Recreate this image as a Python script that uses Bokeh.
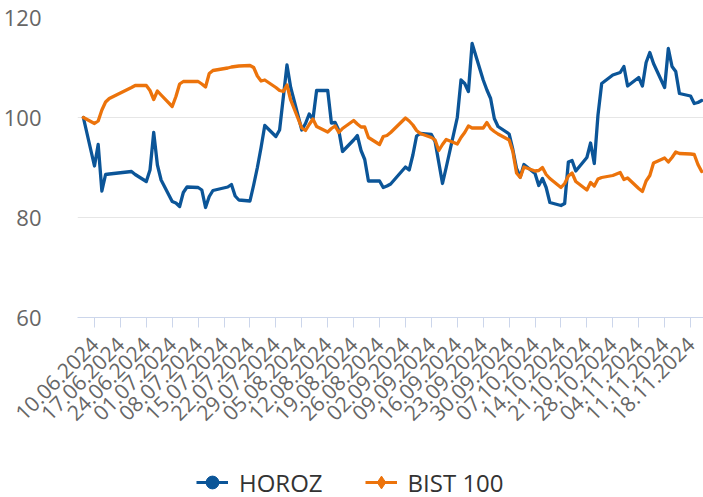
import math
import pandas as pd
from bokeh.plotting import figure
from bokeh.layouts import column
from bokeh.models import (ColumnDataSource, Range1d, FixedTicker, DatetimeTickFormatter,
                          Legend, LegendItem)
from bokeh.embed import file_html
from bokeh.resources import INLINE

dates = [
    "07.06.2024", "10.06.2024", "11.06.2024", "12.06.2024", "13.06.2024", "14.06.2024",
    "20.06.2024", "21.06.2024", "24.06.2024", "25.06.2024", "26.06.2024", "27.06.2024",
    "28.06.2024", "01.07.2024", "02.07.2024", "03.07.2024", "04.07.2024", "05.07.2024",
    "08.07.2024", "09.07.2024", "10.07.2024", "11.07.2024", "12.07.2024", "16.07.2024",
    "17.07.2024", "18.07.2024", "19.07.2024", "22.07.2024", "23.07.2024", "24.07.2024",
    "25.07.2024", "26.07.2024", "29.07.2024", "30.07.2024", "31.07.2024", "01.08.2024",
    "02.08.2024", "05.08.2024", "06.08.2024", "07.08.2024", "08.08.2024", "09.08.2024",
    "12.08.2024", "13.08.2024", "14.08.2024", "15.08.2024", "16.08.2024", "19.08.2024",
    "20.08.2024", "21.08.2024", "22.08.2024", "23.08.2024", "26.08.2024", "27.08.2024",
    "28.08.2024", "29.08.2024", "02.09.2024", "03.09.2024", "04.09.2024", "05.09.2024",
    "06.09.2024", "09.09.2024", "10.09.2024", "11.09.2024", "12.09.2024", "13.09.2024",
    "16.09.2024", "17.09.2024", "18.09.2024", "19.09.2024", "20.09.2024", "23.09.2024",
    "24.09.2024", "25.09.2024", "26.09.2024", "27.09.2024", "30.09.2024", "01.10.2024",
    "02.10.2024", "03.10.2024", "04.10.2024", "07.10.2024", "08.10.2024", "09.10.2024",
    "10.10.2024", "11.10.2024", "14.10.2024", "15.10.2024", "16.10.2024", "17.10.2024",
    "18.10.2024", "21.10.2024", "22.10.2024", "23.10.2024", "24.10.2024", "25.10.2024",
    "28.10.2024", "30.10.2024", "31.10.2024", "01.11.2024", "04.11.2024", "05.11.2024",
    "06.11.2024", "07.11.2024", "08.11.2024", "11.11.2024", "12.11.2024", "13.11.2024",
    "14.11.2024", "15.11.2024", "18.11.2024", "19.11.2024", "20.11.2024", "21.11.2024",
]

horoz = [
    100.0, 90.3, 94.6, 85.3, 88.6, 88.7,
    89.2, 88.6, 87.2, 89.5, 97.0, 90.5,
    87.5, 83.2, 82.9, 82.2, 85.0, 86.1,
    86.0, 85.5, 82.0, 84.2, 85.4, 86.1,
    86.6, 84.3, 83.5, 83.3, 86.5, 90.0,
    94.0, 98.4, 96.2, 97.5, 104.0, 110.5,
    106.0, 97.5, 98.8, 100.7, 99.6, 105.4,
    105.4, 98.9, 99.0, 97.4, 93.2, 95.5,
    96.4, 93.4, 91.6, 87.3, 87.3, 86.0,
    86.3, 86.7, 90.1, 89.5, 92.5, 96.3,
    96.8, 96.6, 95.2, 91.0, 86.8, 90.0,
    100.0, 107.5, 106.8, 105.2, 114.8, 107.5,
    105.5, 103.8, 99.8, 98.2, 96.7, 93.6,
    89.8, 88.1, 90.6, 88.8, 86.4, 87.8,
    86.0, 83.0, 82.4, 82.8, 91.1, 91.4,
    89.3, 92.0, 94.9, 90.8, 100.5, 106.8,
    108.5, 109.0, 110.2, 106.3, 108.0, 106.3,
    111.0, 113.0, 110.8, 106.0, 113.8, 110.2,
    109.2, 104.8, 104.3, 102.8, 103.0, 103.4,
]

bist100 = [
    100.0, 98.8, 99.3, 101.5, 103.1, 103.8,
    106.0, 106.4, 106.4, 105.4, 103.6, 105.3,
    104.5, 102.2, 104.2, 106.7, 107.2, 107.2,
    107.2, 106.7, 106.1, 108.8, 109.4, 109.9,
    110.1, 110.2, 110.3, 110.4, 110.0, 108.3,
    107.3, 107.5, 106.0, 105.4, 105.2, 106.5,
    103.5, 97.9, 97.4, 98.6, 99.7, 98.2,
    97.1, 97.8, 98.3, 97.0, 97.8, 99.4,
    98.7, 98.1, 98.1, 96.0, 94.6, 96.2,
    96.4, 97.0, 99.9, 99.3, 98.5, 97.4,
    96.8, 96.0, 95.5, 93.4, 94.6, 95.6,
    94.7, 96.0, 97.0, 98.3, 97.9, 97.9,
    99.0, 97.8, 97.2, 96.7, 95.5, 93.2,
    88.9, 88.0, 90.1, 89.3, 89.4, 90.0,
    88.6, 87.8, 86.0, 86.8, 88.3, 88.9,
    87.2, 85.5, 87.0, 86.3, 87.7, 88.0,
    88.4, 89.0, 87.6, 87.9, 85.8, 85.2,
    87.3, 88.4, 90.9, 91.9, 91.1, 92.0,
    93.1, 92.8, 92.7, 92.6, 90.6, 89.2,
]

tick_labels = [
    "10.06.2024", "17.06.2024", "24.06.2024", "01.07.2024", "08.07.2024", "15.07.2024",
    "22.07.2024", "29.07.2024", "05.08.2024", "12.08.2024", "19.08.2024", "26.08.2024",
    "02.09.2024", "09.09.2024", "16.09.2024", "23.09.2024", "30.09.2024", "07.10.2024",
    "14.10.2024", "21.10.2024", "28.10.2024", "04.11.2024", "11.11.2024", "18.11.2024",
]

y_ticks = [60, 80, 100, 120]
series_names = ["HOROZ", "BIST 100"]
colors = ["#0b5598", "#ec730b"]

x = pd.to_datetime(dates, format="%d.%m.%Y")
tick_dt = pd.to_datetime(tick_labels, format="%d.%m.%Y")
epoch = pd.Timestamp("1970-01-01")
tick_ms = [int((t - epoch) / pd.Timedelta(milliseconds=1)) for t in tick_dt]

src = ColumnDataSource(dict(x=x, h=horoz, b=bist100))

x_start = tick_dt[0] - pd.Timedelta(hours=110)
x_end = tick_dt[-1] + pd.Timedelta(hours=84)

p = figure(width=703, height=457, x_axis_type="datetime",
           x_range=Range1d(x_start.to_pydatetime(), x_end.to_pydatetime()),
           y_range=Range1d(60, 120),
           output_backend="svg", toolbar_location=None,
           min_border_left=77, min_border_right=0, min_border_top=17,
           min_border_bottom=140)
p.outline_line_color = None
p.background_fill_color = "white"
p.border_fill_color = "white"

p.line("x", "h", source=src, line_color=colors[0], line_width=3.3,
       line_join="round", line_cap="round")
p.line("x", "b", source=src, line_color=colors[1], line_width=3.3,
       line_join="round", line_cap="round")

# x axis
xa = p.xaxis[0]
xa.ticker = FixedTicker(ticks=tick_ms)
fmt = "%d.%m.%Y"
xa.formatter = DatetimeTickFormatter(days=fmt, months=fmt, years=fmt, hours=fmt,
                                     hourmin=fmt, minutes=fmt, minsec=fmt, seconds=fmt,
                                     milliseconds=fmt, microseconds=fmt)
xa.major_label_orientation = math.pi / 4
xa.axis_line_color = "#ccd6eb"
xa.major_tick_line_color = "#ccd6eb"
xa.major_tick_out = 10
xa.major_tick_in = 0
xa.minor_tick_line_color = None
xa.major_label_text_font = "Open Sans"
xa.major_label_text_font_size = "21px"
xa.major_label_text_color = "#666666"
xa.major_label_standoff = 13

# y axis
ya = p.yaxis[0]
ya.ticker = FixedTicker(ticks=y_ticks)
ya.axis_line_color = None
ya.major_tick_line_color = None
ya.minor_tick_line_color = None
ya.major_label_text_font = "Open Sans"
ya.major_label_text_font_size = "22px"
ya.major_label_text_color = "#666666"
ya.major_label_standoff = 30

p.xgrid.grid_line_color = None
p.ygrid.grid_line_color = "#e6e6e6"
p.ygrid.grid_line_width = 1

# legend strip below the chart
leg_src = ColumnDataSource(dict(x=[float("nan")], y=[float("nan")]))
pl = figure(width=703, height=40, x_range=Range1d(0, 1), y_range=Range1d(0, 1),
            output_backend="svg", toolbar_location=None,
            x_axis_location=None, y_axis_location=None,
            min_border_left=0, min_border_right=0, min_border_top=0, min_border_bottom=0)
pl.outline_line_color = None
pl.xgrid.visible = False
pl.ygrid.visible = False
l_h = pl.line("x", "y", source=leg_src, line_color=colors[0], line_width=3)
s_h = pl.scatter("x", "y", source=leg_src, marker="circle", size=12,
                 fill_color=colors[0], line_color=colors[0])
l_b = pl.line("x", "y", source=leg_src, line_color=colors[1], line_width=3)
s_b = pl.scatter("x", "y", source=leg_src, marker="diamond", size=12,
                 fill_color=colors[1], line_color=colors[1])

legend = Legend(items=[LegendItem(label=series_names[0], renderers=[l_h, s_h]),
                       LegendItem(label=series_names[1], renderers=[l_b, s_b])],
                orientation="horizontal", location=(119, -2),
                margin=0, padding=0, spacing=42, label_standoff=11,
                glyph_width=32, glyph_height=34, label_height=34,
                label_text_font="Open Sans", label_text_font_size="24px",
                label_text_color="#333333",
                background_fill_alpha=0, border_line_alpha=0)
pl.add_layout(legend, "center")

layout = column(p, pl, spacing=0)
open("out.html", "w").write(file_html(layout, INLINE))
